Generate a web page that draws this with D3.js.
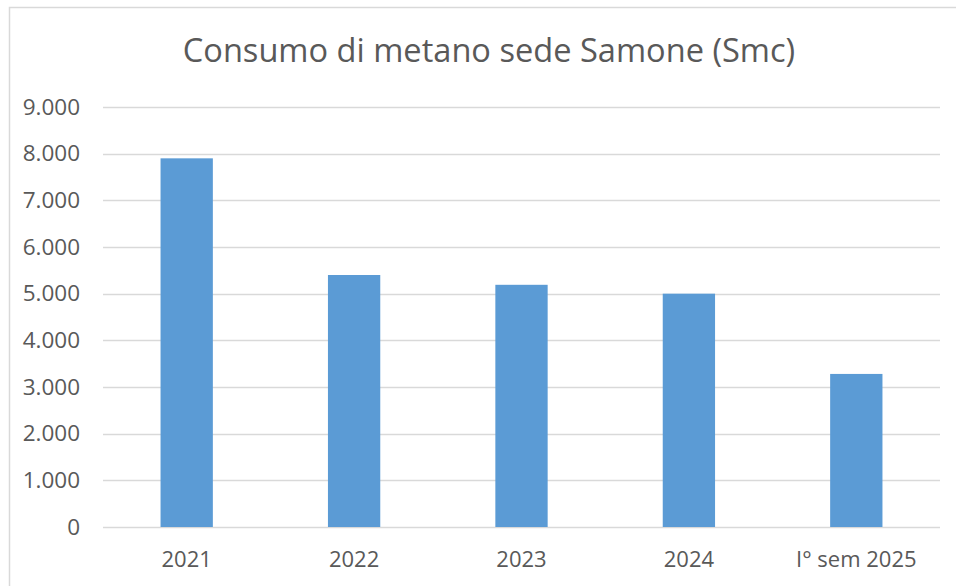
<!DOCTYPE html>
<html>
<head>
<meta charset="utf-8">
<script src="https://cdn.jsdelivr.net/npm/d3@7"></script>
<style>
  html, body { margin: 0; padding: 0; background: #fff; }
  svg { display: block; }
  text { font-family: "Open Sans", "Liberation Sans", sans-serif; fill: #595959; }
</style>
</head>
<body>
<div id="chart"></div>
<script>
// Chart data.
var titleText = 'Consumo di metano sede Samone (Smc)';
var categories = ['2021', '2022', '2023', '2024', 'I\u00b0 sem 2025'];
var values = [7900, 5400, 5190, 5000, 3280];
var yTicks = [0, 1000, 2000, 3000, 4000, 5000, 6000, 7000, 8000, 9000];

(function(d3) {

  var width = 956,
    height = 586,
    margin = { top: 107, right: 16, bottom: 59, left: 103 };

  var svg = d3.select('#chart').append('svg')
    .attr('width', width)
    .attr('height', height);

  // Chart frame.
  svg.append('rect')
    .attr('x', 9.5)
    .attr('y', 7.5)
    .attr('width', width + 10)
    .attr('height', height + 10)
    .attr('fill', 'none')
    .attr('stroke', '#d9d9d9')
    .attr('stroke-width', 1.5);

  var x = d3.scaleBand()
    .domain(categories)
    .range([margin.left, width - margin.right])
    .paddingInner(0.6875)
    .paddingOuter(0.34375);

  var y = d3.scaleLinear()
    .domain([0, 9000])
    .range([height - margin.bottom, margin.top]);

  // Gridlines.
  svg.append('g')
    .selectAll('line')
    .data(yTicks)
    .join('line')
      .attr('x1', margin.left)
      .attr('x2', width - margin.right)
      .attr('y1', function(d) { return Math.round(y(d)) + 0.5; })
      .attr('y2', function(d) { return Math.round(y(d)) + 0.5; })
      .attr('stroke', '#d9d9d9')
      .attr('stroke-width', 1.3);

  // Bars.
  svg.append('g')
    .selectAll('rect')
    .data(values)
    .join('rect')
      .attr('x', function(d, i) { return x(categories[i]); })
      .attr('y', function(d) { return y(d); })
      .attr('width', x.bandwidth())
      .attr('height', function(d) { return y(0) - y(d); })
      .attr('fill', '#5b9bd5');

  // Y axis labels.
  var fmt = d3.formatLocale({ decimal: ',', thousands: '.', grouping: [3], currency: ['', '\u20ac'] }).format(',.0f');

  var yAxis = d3.axisLeft(y)
    .tickValues(yTicks)
    .tickFormat(fmt)
    .tickSize(0)
    .tickPadding(23);

  svg.append('g')
    .attr('transform', 'translate(' + margin.left + ',0)')
    .call(yAxis)
    .call(function(g) { g.select('.domain').remove(); })
    .selectAll('text')
      .style('font-family', '"Open Sans", "Liberation Sans", sans-serif')
      .style('font-size', '22.5px')
      .attr('fill', '#595959');

  // X axis labels.
  var xAxis = d3.axisBottom(x)
    .tickSize(0)
    .tickPadding(24);

  svg.append('g')
    .attr('transform', 'translate(0,' + y(0) + ')')
    .call(xAxis)
    .call(function(g) { g.select('.domain').remove(); })
    .selectAll('text')
      .style('font-family', '"Open Sans", "Liberation Sans", sans-serif')
      .style('font-size', '22px')
      .attr('fill', '#595959');

  // Title.
  svg.append('text')
    .attr('x', 489)
    .attr('y', 62)
    .attr('text-anchor', 'middle')
    .style('font-size', '32.6px')
    .text(titleText);

})(d3);
</script>
</body>
</html>
